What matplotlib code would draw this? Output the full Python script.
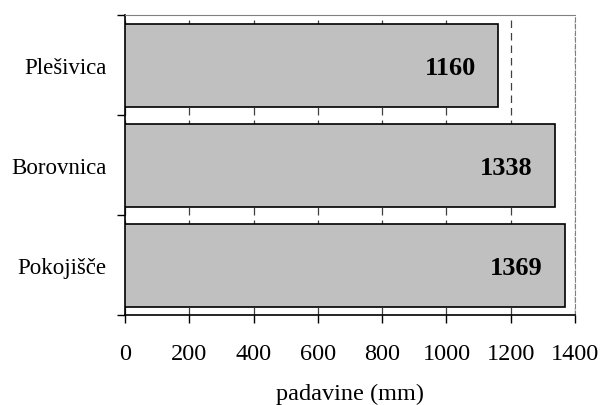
import matplotlib
matplotlib.use("Agg")
import matplotlib.pyplot as plt
from matplotlib.ticker import FixedLocator

# data
stations = ["Plešivica", "Borovnica", "Pokojišče"]
padavine = [1160, 1338, 1369]
x_ticks = [0, 200, 400, 600, 800, 1000, 1200, 1400]

plt.rcParams['font.family'] = ['Liberation Serif', 'DejaVu Serif']

fig = plt.figure(figsize=(6.03, 4.06), dpi=100)
ax = fig.add_axes([125 / 603, 1 - 316 / 406, 450 / 603, 300 / 406])

y_pos = list(range(len(stations)))
bars = ax.barh(y_pos, padavine, height=0.83, color="#c0c0c0",
               edgecolor="black", linewidth=1.2, zorder=3)

# value labels inside bar ends
for b, val in zip(bars, padavine):
    ax.annotate(str(val), xy=(val, b.get_y() + b.get_height() / 2),
                xytext=(-16, -1.5), textcoords="offset points",
                ha="right", va="center", fontsize=19, fontweight="bold",
                zorder=4)

ax.set_xlim(0, 1400)
ax.set_ylim(len(stations) - 0.5, -0.5)
ax.set_xticks(x_ticks)
ax.set_xticklabels([str(t) for t in x_ticks], fontsize=17.5)
ax.set_yticks(y_pos)
ax.set_yticklabels(stations, fontsize=16.5)
ax.yaxis.set_minor_locator(FixedLocator([-0.5, 0.5, 1.5, 2.5]))

ax.tick_params(axis="y", which="major", length=0, pad=13.5)
ax.tick_params(axis="y", which="minor", length=6, width=1, direction="out")
ax.tick_params(axis="x", which="major", length=6, width=1, direction="out",
               pad=14)

ax.grid(axis="x", color="#404040", linestyle=(0, (6, 4)), linewidth=0.9,
        zorder=1)

ax.set_xlabel("padavine (mm)", fontsize=17.5, labelpad=14)

ax.spines["left"].set_linewidth(1.2)
ax.spines["bottom"].set_linewidth(1.2)
ax.spines["top"].set_color("#808080")
ax.spines["right"].set_color("#808080")
ax.spines["right"].set_linestyle((0, (4, 2)))

fig.savefig("out.png", dpi=100)
